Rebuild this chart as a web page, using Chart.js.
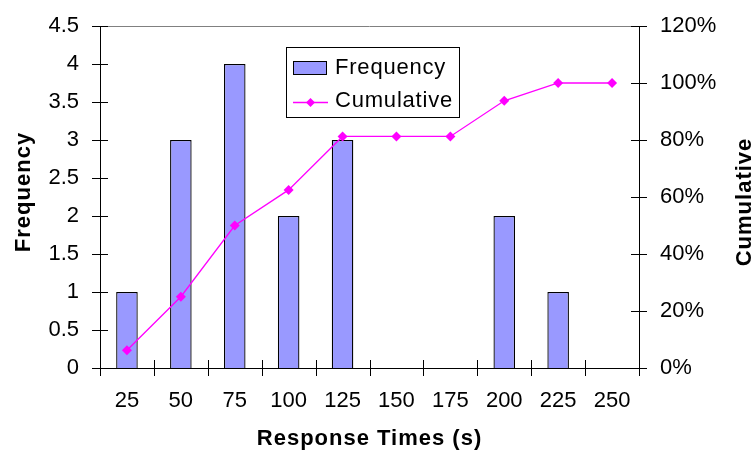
<!DOCTYPE html>
<html>
<head>
<meta charset="utf-8">
<script src="https://cdn.jsdelivr.net/npm/chart.js@4.4.1/dist/chart.umd.min.js"></script>
<style>
  html, body { margin: 0; padding: 0; background: #fff; }
  #wrap { width: 755px; height: 450px; }
</style>
</head>
<body>
<div id="wrap"><canvas id="c" width="755" height="450"></canvas></div>
<script>
// Response-time histogram with cumulative percentage
const categories = ['25', '50', '75', '100', '125', '150', '175', '200', '225', '250'];
const frequency = [1, 3, 4, 2, 3, 0, 0, 2, 1, 0];
const cumulative = [0.0625, 0.25, 0.5, 0.625, 0.8125, 0.8125, 0.8125, 0.9375, 1.0, 1.0];
const freqAxis = { min: 0, max: 4.5, step: 0.5 };
const pctAxis = { min: 0, max: 1.2, step: 0.2 };
const seriesNames = ['Frequency', 'Cumulative'];
const titles = { x: 'Response Times (s)', y: 'Frequency', y1: 'Cumulative' };

const FONT = '"Liberation Sans", Arial, Helvetica, sans-serif';
const BAR_FILL = '#9999FF';
const LINE_COLOR = '#FF00FF';

// Tick marks crossing each axis, plot-area top edge, axis titles and legend box
const decorations = {
  id: 'decorations',
  afterDraw(chart) {
    const { ctx, chartArea: a, scales } = chart;
    const { x, y, y1 } = scales;
    ctx.save();
    ctx.lineWidth = 1;

    // top edge of the plot area
    ctx.strokeStyle = '#808080';
    ctx.beginPath();
    ctx.moveTo(a.left, a.top + 0.5);
    ctx.lineTo(a.right, a.top + 0.5);
    ctx.stroke();

    ctx.strokeStyle = '#000';
    ctx.beginPath();
    y.ticks.forEach(t => {
      const py = Math.round(y.getPixelForValue(t.value)) + 0.5;
      ctx.moveTo(a.left - 8, py); ctx.lineTo(a.left + 8, py);
    });
    y1.ticks.forEach(t => {
      const py = Math.round(y1.getPixelForValue(t.value)) + 0.5;
      ctx.moveTo(a.right - 8, py); ctx.lineTo(a.right + 8, py);
    });
    for (let i = 0; i <= categories.length; i++) {
      const px = Math.round(x.getPixelForValue(i - 0.5)) + 0.5;
      ctx.moveTo(px, a.bottom - 8); ctx.lineTo(px, a.bottom + 8);
    }
    ctx.stroke();

    // axis titles
    ctx.fillStyle = '#000';
    ctx.font = 'bold 22px ' + FONT;
    if ('letterSpacing' in ctx) ctx.letterSpacing = '1px';
    ctx.textAlign = 'center';
    ctx.textBaseline = 'middle';
    ctx.fillText(titles.x, (a.left + a.right) / 2, 439);
    ctx.save();
    ctx.translate(24, 192);
    ctx.rotate(-Math.PI / 2);
    ctx.fillText(titles.y, 0, 0);
    ctx.restore();
    ctx.save();
    ctx.translate(745, 202);
    ctx.rotate(-Math.PI / 2);
    ctx.fillText(titles.y1, 0, 0);
    ctx.restore();

    // legend
    const lx = 286, ly = 47, lw = 173, lh = 70;
    ctx.fillStyle = '#fff';
    ctx.fillRect(lx, ly, lw, lh);
    ctx.strokeStyle = '#000';
    ctx.strokeRect(lx + 0.5, ly + 0.5, lw, lh);

    const ds0 = chart.data.datasets[0];
    const ds1 = chart.data.datasets[1];
    ctx.fillStyle = ds0.backgroundColor;
    ctx.fillRect(293, 61, 33, 13);
    ctx.strokeStyle = '#000';
    ctx.strokeRect(293.5, 61.5, 33, 13);

    ctx.strokeStyle = ds1.borderColor;
    ctx.lineWidth = 1.5;
    ctx.beginPath();
    ctx.moveTo(293, 102.5); ctx.lineTo(328, 102.5);
    ctx.stroke();
    ctx.fillStyle = ds1.borderColor;
    ctx.beginPath();
    ctx.moveTo(310.5, 98); ctx.lineTo(315, 102.5); ctx.lineTo(310.5, 107); ctx.lineTo(306, 102.5);
    ctx.closePath();
    ctx.fill();

    ctx.fillStyle = '#000';
    ctx.font = '22px ' + FONT;
    if ('letterSpacing' in ctx) ctx.letterSpacing = '0.8px';
    ctx.textAlign = 'left';
    ctx.textBaseline = 'middle';
    ctx.fillText(ds0.label, 335, 68);
    ctx.fillText(ds1.label, 335, 101);
    ctx.restore();
  }
};

// fixed scale box sizes so the plot area sits at a known place
function fixBox(size) {
  return s => {
    if (s.isHorizontal()) s.height = size; else s.width = size;
    s.paddingTop = 0; s.paddingBottom = 0;
    s.paddingLeft = 0; s.paddingRight = 0;
  };
}

new Chart(document.getElementById('c'), {
  type: 'bar',
  data: {
    labels: categories,
    datasets: [
      {
        type: 'bar',
        label: seriesNames[0],
        data: frequency,
        yAxisID: 'y',
        backgroundColor: BAR_FILL,
        borderColor: '#000',
        borderWidth: 1.3,
        barPercentage: 0.4,
        categoryPercentage: 1.0,
        order: 2
      },
      {
        type: 'line',
        label: seriesNames[1],
        data: cumulative,
        yAxisID: 'y1',
        borderColor: LINE_COLOR,
        backgroundColor: LINE_COLOR,
        borderWidth: 1.3,
        pointStyle: 'rectRot',
        pointRadius: 5,
        pointBorderWidth: 0,
        tension: 0,
        fill: false,
        order: 1
      }
    ]
  },
  options: {
    responsive: false,
    devicePixelRatio: 1,
    animation: false,
    events: [],
    layout: { padding: { top: 26, left: 0, right: 0, bottom: 0 } },
    plugins: {
      legend: { display: false },
      tooltip: { enabled: false },
      title: { display: false }
    },
    scales: {
      x: {
        offset: true,
        grid: { display: false, drawTicks: false },
        border: { display: true, color: '#000', width: 1 },
        ticks: { color: '#000', font: { family: FONT, size: 22 }, padding: 20, maxRotation: 0, autoSkip: false },
        afterFit: fixBox(82)
      },
      y: {
        position: 'left',
        min: freqAxis.min,
        max: freqAxis.max,
        grid: { display: false, drawTicks: false },
        border: { display: true, color: '#000', width: 1 },
        ticks: {
          stepSize: freqAxis.step,
          color: '#000',
          font: { family: FONT, size: 22 },
          padding: 21,
          callback: v => String(Math.round(v * 10) / 10)
        },
        afterFit: fixBox(100)
      },
      y1: {
        position: 'right',
        min: pctAxis.min,
        max: pctAxis.max,
        grid: { display: false, drawTicks: false },
        border: { display: true, color: '#000', width: 1 },
        ticks: {
          stepSize: pctAxis.step,
          color: '#000',
          font: { family: FONT, size: 22 },
          padding: 21,
          callback: v => Math.round(v * 100) + '%'
        },
        afterFit: fixBox(116)
      }
    }
  },
  plugins: [decorations]
});
</script>
</body>
</html>
